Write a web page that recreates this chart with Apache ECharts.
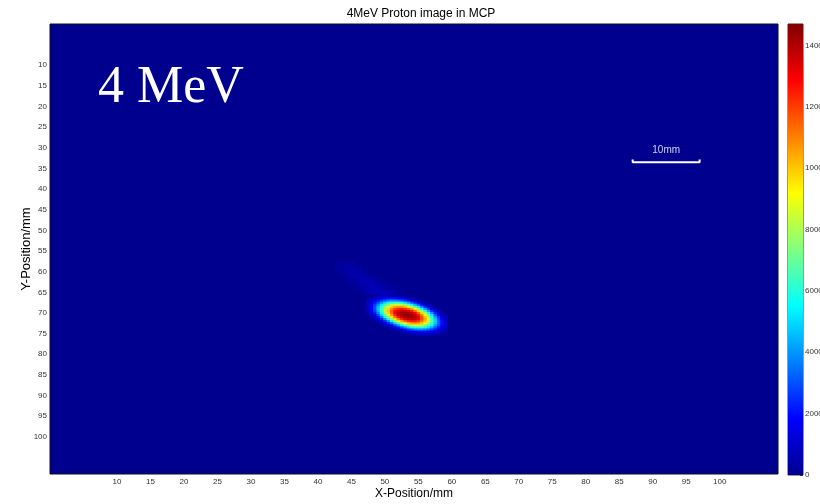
<!DOCTYPE html>
<html>
<head>
<meta charset="utf-8">
<script src="https://cdn.jsdelivr.net/npm/echarts@6/dist/echarts.min.js"></script>
<style>
    html, body { margin: 0; padding: 0; background: #fff; }
    #mcpImage { width: 820px; height: 504px; }
</style>
</head>
<body>
<div id="mcpImage"></div>
<script>
// tick labels
var xTicks = [10, 15, 20, 25, 30, 35, 40, 45, 50, 55, 60, 65, 70, 75, 80, 85, 90, 95, 100];
var yTicks = [10, 15, 20, 25, 30, 35, 40, 45, 50, 55, 60, 65, 70, 75, 80, 85, 90, 95, 100];
var colorTicks = [0, 2000, 4000, 6000, 8000, 10000, 12000, 14000];
var xMax = 108.7;
var yMax = 109;
var countMax = 14700;

// counts (x1000) around the proton spot, one row per y, sampled every 0.5 mm
// [y, first x, values]
var spotStep = 0.5;
var spotRows = [
    [66.0, 48.5, [0.5, 0.65, 0.8, 0.9, 0.93, 0.92, 0.86, 0.75, 0.6, 0.45]],
    [66.5, 47.5, [0.4, 0.62, 0.89, 1.22, 1.5, 1.85, 2.03, 2.09, 2.01, 1.8, 1.48, 1.17, 0.85, 0.58]],
    [67.0, 47.5, [0.59, 0.94, 1.44, 2.07, 2.68, 3.18, 3.63, 3.88, 3.88, 3.64, 3.19, 2.69, 2.08, 1.45, 0.94, 0.59]],
    [67.5, 47.5, [0.79, 1.33, 2.1, 2.98, 3.97, 4.88, 5.57, 6.02, 6.2, 6.08, 5.67, 5.02, 4.15, 3.14, 2.24, 1.43, 0.86, 0.49]],
    [68.0, 47.5, [0.91, 1.62, 2.65, 3.87, 5.19, 6.37, 7.34, 8.08, 8.47, 8.54, 8.26, 7.63, 6.73, 5.61, 4.33, 3.03, 1.97, 1.14, 0.62]],
    [68.5, 47.5, [0.95, 1.8, 2.97, 4.46, 6.04, 7.51, 8.79, 9.76, 10.38, 10.65, 10.57, 10.13, 9.35, 8.21, 6.81, 5.3, 3.72, 2.36, 1.35, 0.72]],
    [69.0, 47.5, [0.9, 1.75, 3.01, 4.68, 6.46, 8.18, 9.7, 10.88, 11.83, 12.4, 12.53, 12.26, 11.59, 10.54, 9.26, 7.66, 5.91, 4.14, 2.59, 1.43, 0.74]],
    [69.5, 47.5, [0.77, 1.49, 2.77, 4.45, 6.38, 8.29, 10.02, 11.48, 12.68, 13.38, 13.7, 13.68, 13.31, 12.55, 11.29, 9.79, 8.03, 6.11, 4.21, 2.56, 1.38, 0.7]],
    [70.0, 47.5, [0.57, 1.18, 2.26, 3.85, 5.8, 7.83, 9.75, 11.41, 12.85, 13.73, 14.14, 14.24, 14.14, 13.74, 12.88, 11.47, 9.81, 7.89, 5.87, 3.91, 2.29, 1.2, 0.58]],
    [70.5, 48.0, [0.81, 1.62, 2.96, 4.83, 6.84, 8.89, 10.67, 12.33, 13.49, 14.12, 14.36, 14.38, 14.17, 13.66, 12.62, 11.03, 9.28, 7.25, 5.23, 3.26, 1.88, 0.92, 0.44]],
    [71.0, 48.0, [0.5, 1.03, 2.05, 3.52, 5.48, 7.47, 9.44, 11.13, 12.64, 13.6, 14.1, 14.24, 14.17, 13.85, 13.06, 11.74, 10.09, 8.23, 6.22, 4.24, 2.55, 1.35, 0.66]],
    [71.5, 48.5, [0.59, 1.21, 2.28, 3.84, 5.72, 7.64, 9.46, 11.0, 12.33, 13.2, 13.64, 13.73, 13.48, 12.87, 11.76, 10.32, 8.65, 6.75, 4.85, 3.05, 1.73, 0.88]],
    [72.0, 49.0, [0.64, 1.27, 2.31, 3.8, 5.56, 7.29, 8.97, 10.32, 11.4, 12.16, 12.51, 12.45, 11.98, 11.11, 9.96, 8.51, 6.8, 5.05, 3.28, 1.99, 1.03]],
    [72.5, 49.5, [0.62, 1.2, 2.14, 3.39, 4.99, 6.52, 7.95, 9.15, 10.0, 10.51, 10.66, 10.46, 9.92, 9.02, 7.78, 6.3, 4.8, 3.21, 2.02, 1.12]],
    [73.0, 50.0, [0.55, 1.0, 1.77, 2.81, 4.08, 5.38, 6.52, 7.47, 8.16, 8.51, 8.52, 8.19, 7.51, 6.58, 5.44, 4.14, 2.87, 1.83, 1.03]],
    [73.5, 50.5, [0.43, 0.78, 1.31, 2.09, 2.97, 3.96, 4.86, 5.57, 6.02, 6.2, 6.09, 5.68, 5.04, 4.16, 3.15, 2.26, 1.45, 0.87]],
    [74.0, 51.5, [0.54, 0.88, 1.35, 1.95, 2.56, 3.1, 3.56, 3.85, 3.9, 3.7, 3.27, 2.79, 2.19, 1.55, 1.04, 0.66]],
    [74.5, 52.5, [0.54, 0.8, 1.1, 1.42, 1.75, 1.99, 2.09, 2.06, 1.9, 1.6, 1.29, 0.94, 0.68, 0.44]],
    [75.0, 53.5, [0.42, 0.57, 0.72, 0.84, 0.91, 0.93, 0.9, 0.82, 0.68, 0.53]]
];

// faint tail up-left of the spot, every 1 mm
var tailStep = 1;
var tailRows = [
    [58, 43, [0.2, 0.3, 0.2]],
    [59, 43, [0.2, 0.35, 0.35, 0.2]],
    [60, 43, [0.15, 0.3, 0.45, 0.4, 0.2]],
    [61, 44, [0.2, 0.4, 0.5, 0.35, 0.2]],
    [62, 45, [0.25, 0.45, 0.55, 0.4, 0.2]],
    [63, 45, [0.15, 0.3, 0.5, 0.6, 0.45, 0.25]],
    [64, 46, [0.2, 0.4, 0.6, 0.65, 0.45, 0.25]],
    [65, 47, [0.3, 0.5, 0.65, 0.65, 0.45, 0.25]]
];

// 10 mm scale bar
var scaleBarX = [87, 97];
var scaleBarY = 33.5;
var scaleBarTickY = 32.8;

var jetColors = ['#00008f', '#0000ff', '#0080ff', '#00ffff', '#80ff80', '#ffff00', '#ff8000', '#ff0000', '#800000'];
var tickFont = '"Liberation Sans Narrow", "Liberation Sans", Arial, sans-serif';
var textFont = '"Liberation Sans", Arial, sans-serif';

function rowsToCells(rows, step, out) {
    rows.forEach(function (row) {
        row[2].forEach(function (v, i) {
            out.push([row[1] + i * step, row[0], v * 1000, step]);
        });
    });
    return out;
}

function renderCell(params, api) {
    var x = api.value(0), y = api.value(1), s = api.value(3);
    var p0 = api.coord([x - s / 2, y - s / 2]);
    var p1 = api.coord([x + s / 2, y + s / 2]);
    return {
        type: 'rect',
        shape: {
            x: Math.min(p0[0], p1[0]),
            y: Math.min(p0[1], p1[1]),
            width: Math.abs(p1[0] - p0[0]) + 0.6,
            height: Math.abs(p1[1] - p0[1]) + 0.6
        },
        style: { fill: api.visual('color') }
    };
}

function buildOption() {
    var cells = rowsToCells(tailRows, tailStep, []);
    rowsToCells(spotRows, spotStep, cells);

    var gradStops = jetColors.map(function (c, i) {
        return { offset: i / (jetColors.length - 1), color: c };
    });

    return {
        animation: false,
        backgroundColor: '#fff',
        title: {
            text: '4MeV Proton image in MCP',
            left: 416,
            top: 3,
            textAlign: 'center',
            textStyle: { fontSize: 12, fontWeight: 'normal', color: '#000', fontFamily: textFont }
        },
        graphic: [{
            type: 'text',
            x: 98,
            y: 88,
            style: {
                text: '4 MeV',
                fill: '#fff',
                font: '52px "Liberation Serif", "Times New Roman", serif',
                verticalAlign: 'middle'
            }
        }],
        visualMap: {
            show: false,
            type: 'continuous',
            seriesIndex: 0,
            dimension: 2,
            min: 0,
            max: countMax,
            inRange: { color: jetColors }
        },
        grid: [
            {
                left: 50, top: 24, width: 728, height: 450, outerBoundsMode: 'none',
                show: true, backgroundColor: '#00008f', borderColor: '#111', borderWidth: 1
            },
            {
                left: 788, top: 24, width: 15, height: 451, outerBoundsMode: 'none',
                show: true, borderColor: '#333', borderWidth: 1
            }
        ],
        xAxis: [
            {
                type: 'value', gridIndex: 0, min: 0, max: xMax, position: 'bottom',
                name: 'X-Position/mm', nameLocation: 'middle', nameGap: 14, nameMoveOverlap: false,
                nameTextStyle: { fontSize: 12, color: '#000', fontFamily: textFont },
                axisLine: { show: false }, splitLine: { show: false }, axisTick: { show: false },
                axisLabel: { customValues: xTicks, fontSize: 8, color: '#333', margin: 4, fontFamily: tickFont }
            },
            {
                type: 'category', gridIndex: 1, data: ['c'], show: false
            }
        ],
        yAxis: [
            {
                type: 'value', gridIndex: 0, min: 0, max: yMax, inverse: true, position: 'left',
                name: 'Y-Position/mm', nameLocation: 'middle', nameGap: 17, nameMoveOverlap: false,
                nameTextStyle: { fontSize: 13, color: '#000', fontFamily: textFont },
                axisLine: { show: false }, splitLine: { show: false }, axisTick: { show: false },
                axisLabel: { customValues: yTicks, fontSize: 8, color: '#333', margin: 3, fontFamily: tickFont }
            },
            {
                type: 'value', gridIndex: 1, min: 0, max: countMax, position: 'right',
                axisLine: { show: false }, splitLine: { show: false },
                axisTick: { show: true, inside: true, length: 3, customValues: colorTicks, lineStyle: { color: '#333' } },
                axisLabel: {
                    customValues: colorTicks, fontSize: 8, color: '#333', margin: 2, fontFamily: tickFont,
                    formatter: function (v) { return String(v); }
                }
            }
        ],
        series: [
            {
                type: 'custom',
                xAxisIndex: 0,
                yAxisIndex: 0,
                clip: true,
                silent: true,
                renderItem: renderCell,
                data: cells
            },
            {
                type: 'line',
                xAxisIndex: 0,
                yAxisIndex: 0,
                symbol: 'none',
                silent: true,
                lineStyle: { color: '#fff', width: 2 },
                data: [
                    [scaleBarX[0], scaleBarTickY],
                    [scaleBarX[0], scaleBarY],
                    [scaleBarX[1], scaleBarY],
                    [scaleBarX[1], scaleBarTickY]
                ]
            },
            {
                type: 'scatter',
                xAxisIndex: 0,
                yAxisIndex: 0,
                symbolSize: 0,
                silent: true,
                label: {
                    show: true, position: 'inside', formatter: '10mm',
                    color: '#fff', fontSize: 10, fontFamily: textFont
                },
                data: [[(scaleBarX[0] + scaleBarX[1]) / 2, 30.6]]
            },
            {
                type: 'bar',
                xAxisIndex: 1,
                yAxisIndex: 1,
                barWidth: '100%',
                silent: true,
                itemStyle: {
                    color: { type: 'linear', x: 0, y: 1, x2: 0, y2: 0, colorStops: gradStops }
                },
                data: [countMax]
            }
        ]
    };
}

var chart = echarts.init(document.getElementById('mcpImage'));
chart.setOption(buildOption());
</script>
</body>
</html>
